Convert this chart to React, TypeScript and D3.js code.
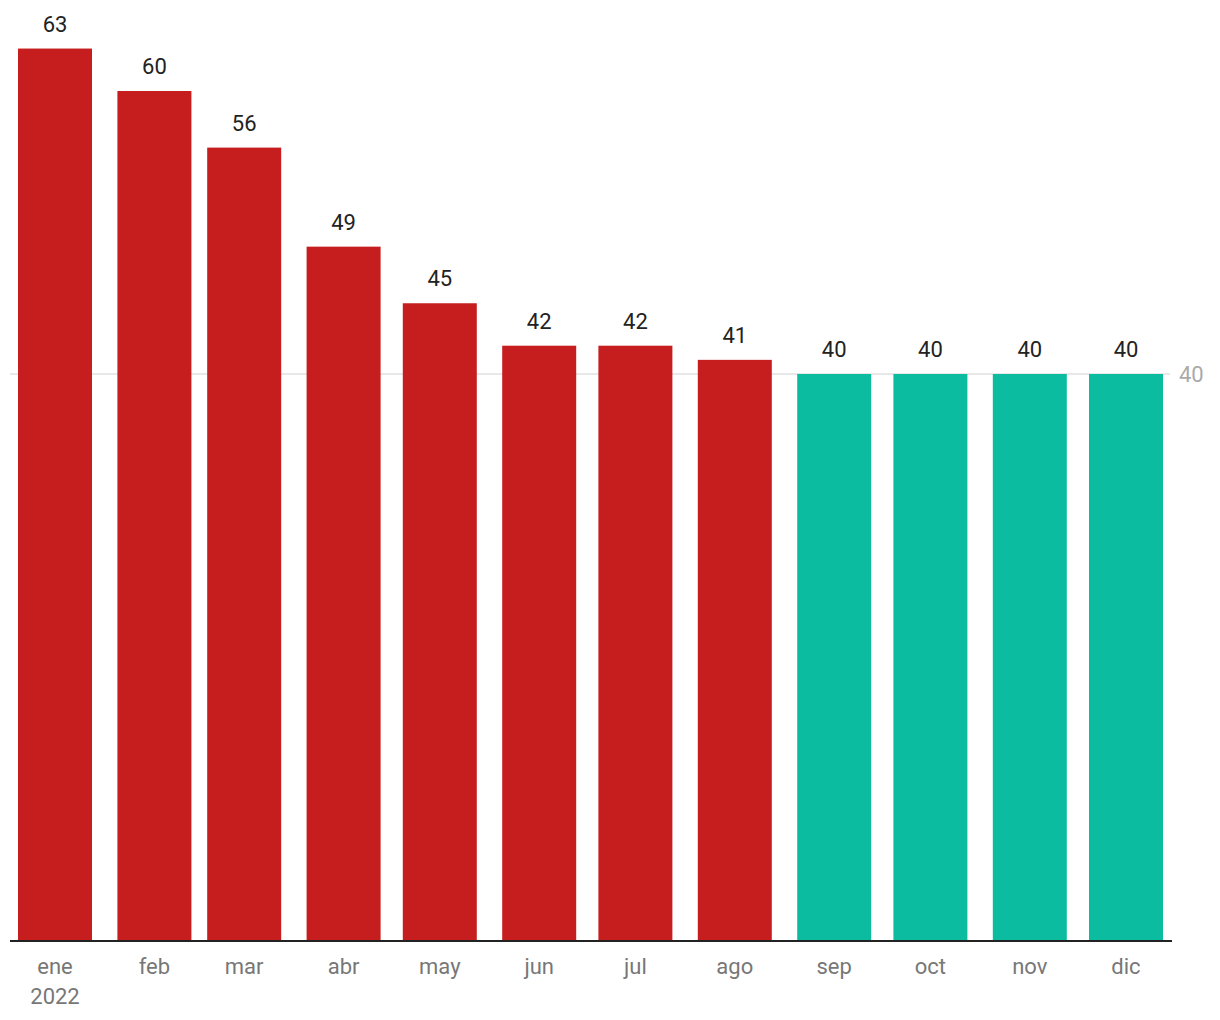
import React from "react";
import * as d3 from "d3";

const months = ["ene", "feb", "mar", "abr", "may", "jun", "jul", "ago", "sep", "oct", "nov", "dic"];
const values = [63, 60, 56, 49, 45, 42, 42, 41, 40, 40, 40, 40];
const projected = [false, false, false, false, false, false, false, false, true, true, true, true];
const yTicks = [40];
const year = 2022;

const W = 1220;
const H = 1020;

export default function App() {
  const dates = months.map((_, i) => new Date(year, i, 1));
  const x = d3
    .scaleTime()
    .domain([new Date(year, 0, 1), new Date(year, 11, 1)])
    .range([55, 1126]);
  const y = d3.scaleLinear().domain([0, 40]).range([940, 374]);
  const barW = 74;
  const font = "Roboto, 'Noto Sans', sans-serif";

  return (
    <svg width={W} height={H} style={{ position: "absolute", left: 0, top: 0, background: "#fff" }}>
      {yTicks.map((t) => (
        <g key={t}>
          <line x1={10} x2={1170} y1={y(t)} y2={y(t)} stroke="#e0e0e0" strokeWidth={1.5} />
          <text x={1179} y={y(t)} dy="0.35em" fontFamily={font} fontSize={22} fill="#aaa">
            {t}
          </text>
        </g>
      ))}
      {values.map((v, i) => {
        const cx = x(dates[i]);
        return (
          <g key={i}>
            <rect
              x={cx - barW / 2}
              y={y(v)}
              width={barW}
              height={y(0) - y(v)}
              fill={projected[i] ? "#0bbca0" : "#c61e1e"}
            />
            <text x={cx} y={y(v) - 17} textAnchor="middle" fontFamily={font} fontSize={22} fill="#222">
              {v}
            </text>
            <text x={cx} y={974} textAnchor="middle" fontFamily={font} fontSize={22} fill="#777">
              {months[i]}
            </text>
            {i === 0 && (
              <text x={cx} y={1004} textAnchor="middle" fontFamily={font} fontSize={22} fill="#777">
                {year}
              </text>
            )}
          </g>
        );
      })}
      <line x1={10} x2={1172} y1={y(0) + 1} y2={y(0) + 1} stroke="#222" strokeWidth={2} />
    </svg>
  );
}
